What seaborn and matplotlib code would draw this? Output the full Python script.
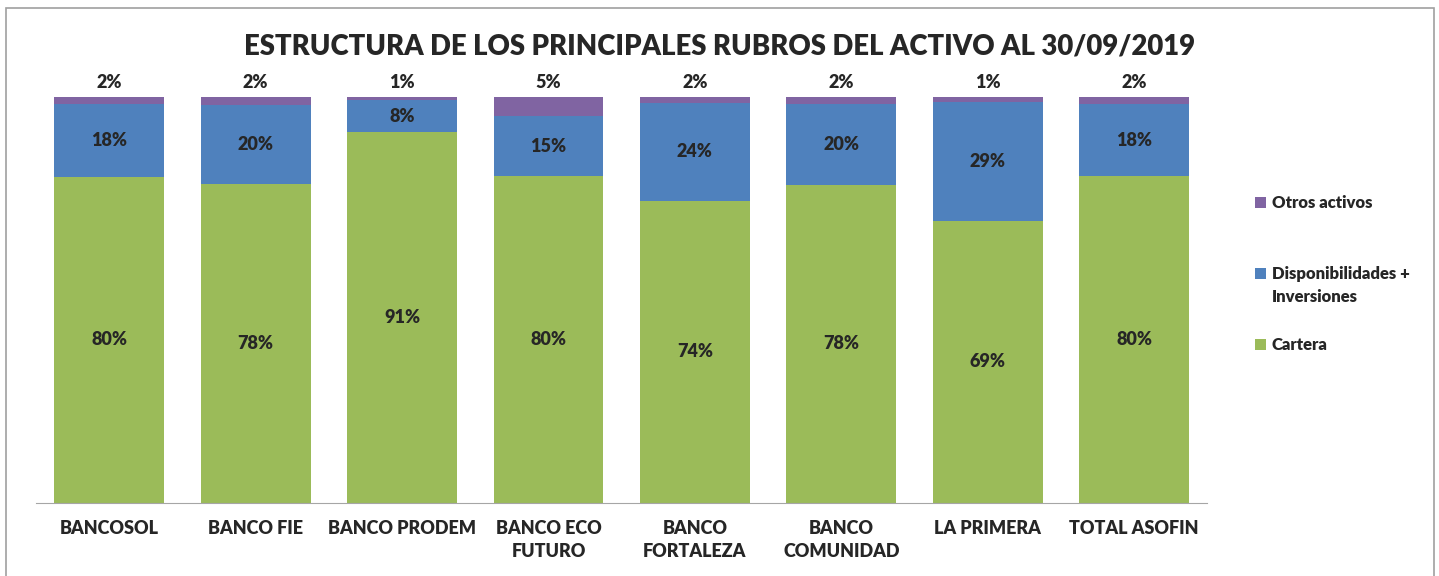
import matplotlib
matplotlib.use("Agg")
import matplotlib.pyplot as plt
import numpy as np
import pandas as pd
import seaborn as sns
from matplotlib.patches import Rectangle

bancos = ["BANCOSOL", "BANCO FIE", "BANCO PRODEM", "BANCO ECO\nFUTURO",
          "BANCO\nFORTALEZA", "BANCO\nCOMUNIDAD", "LA PRIMERA", "TOTAL ASOFIN"]
cartera = [80.3, 78.4, 91.4, 80.4, 74.4, 78.3, 69.4, 80.4]
disponibilidades = [18.0, 19.6, 7.7, 14.8, 24.0, 20.0, 29.4, 17.9]
otros = [1.7, 2.0, 0.9, 4.8, 1.6, 1.7, 1.2, 1.7]

series = ["Otros activos", "Disponibilidades +\nInversiones", "Cartera"]
COLORS = {"Cartera": "#9BBB59", "Disponibilidades +\nInversiones": "#4F81BD",
          "Otros activos": "#8064A2"}

df = pd.DataFrame({"banco": bancos, "cartera": cartera,
                   "disp": disponibilidades, "otros": otros})
df["base_otros"] = df["cartera"] + df["disp"]

sns.set_style("white")
plt.rcParams["font.family"] = ["Lato", "DejaVu Sans"]

W, H = 1439, 576
fig = plt.figure(figsize=(W / 100, H / 100), dpi=100)
ax = fig.add_axes([0.025, 0.127, 0.814, 0.705])

sns.barplot(data=df, x="banco", y="cartera", color=COLORS["Cartera"],
            width=0.75, saturation=1, ax=ax)
sns.barplot(data=df, x="banco", y="disp", bottom=df["cartera"],
            color=COLORS["Disponibilidades +\nInversiones"],
            width=0.75, saturation=1, ax=ax)
sns.barplot(data=df, x="banco", y="otros", bottom=df["base_otros"],
            color=COLORS["Otros activos"], width=0.75, saturation=1, ax=ax)

for p in ax.patches:
    p.set_edgecolor("none")

for i, row in df.iterrows():
    ax.text(i, row["cartera"] / 2, f"{row['cartera']:.0f}%", ha="center",
            va="center", fontsize=13, fontweight="heavy")
    ax.text(i, row["cartera"] + row["disp"] / 2, f"{row['disp']:.0f}%",
            ha="center", va="center", fontsize=13, fontweight="heavy")
    ax.text(i, 100 + 3.6, f"{row['otros']:.0f}%", ha="center", va="center",
            fontsize=13, fontweight="heavy")

ax.set_xlim(-0.5, len(bancos) - 0.5)
ax.set_ylim(0, 100)
ax.set_xlabel("")
ax.set_ylabel("")
ax.set_yticks([])
ax.set_xticks(range(len(bancos)))
ax.set_xticklabels(bancos, fontsize=13, fontweight="heavy", linespacing=1.45)
ax.set_xticks(np.arange(-0.5, len(bancos)), minor=True)
ax.tick_params(axis="x", which="major", length=0, pad=12)
ax.tick_params(axis="x", which="minor", length=6, color="#A6A6A6", width=1)
for side in ["top", "right", "left"]:
    ax.spines[side].set_visible(False)
ax.spines["bottom"].set_color("#A6A6A6")

fig.text(0.5, 0.92, "ESTRUCTURA DE LOS PRINCIPALES RUBROS DEL ACTIVO AL 30/09/2019",
         ha="center", va="center", fontsize=19.8, fontweight="heavy")

# legend drawn by hand so the entries sit where the reference puts them
legend_y = [202, 273, 344]
for name, y in zip(series, legend_y):
    fig.patches.append(Rectangle((1255 / W, 1 - (y + 5.5) / H), 11 / W, 11 / H,
                                 transform=fig.transFigure,
                                 facecolor=COLORS[name], edgecolor="none"))
    fig.text(1272 / W, 1 - (y - 7) / H, name, ha="left", va="top",
             fontsize=12, fontweight="heavy", linespacing=1.55)

fig.patches.append(Rectangle((6 / W, -0.01), 1428 / W, 1 - 8 / H + 0.01,
                             transform=fig.transFigure, fill=False,
                             edgecolor="#A0A0A0", linewidth=1.2))

fig.savefig("out.png", dpi=100)
